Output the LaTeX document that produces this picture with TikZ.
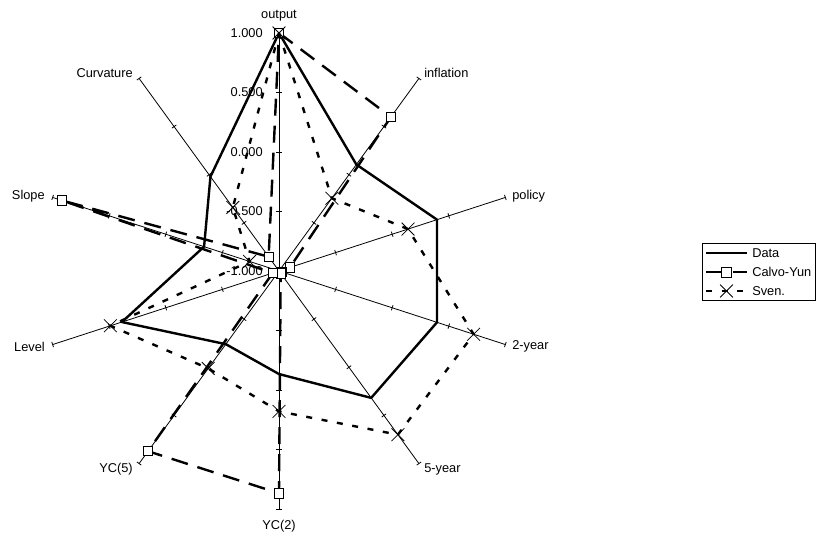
\documentclass[tikz,border=0pt]{standalone}
\usepackage{fontspec}
\setmainfont{Liberation Sans}
\usetikzlibrary{shapes.misc,calc}
\begin{document}
\begin{tikzpicture}[x=0.75pt,y=0.75pt,
  font=\fontsize{9.6pt}{11pt}\selectfont,
  axis/.style={line width=0.6pt},
  lab/.style={inner sep=0pt},
  datal/.style={line width=1.8pt, line join=round},
  cyl/.style={line width=1.8pt, line join=round, dash pattern=on 12.75pt off 7.5pt},
  svl/.style={line width=1.8pt, line join=round, dash pattern=on 4.5pt off 7.2pt},
  sq/.style={draw, line width=0.6pt, fill=white, rectangle, minimum size=7pt, inner sep=0pt},
  xm/.style={draw, line width=0.6pt, cross out, minimum size=9pt, inner sep=0pt},
]
\useasboundingbox (0,0) rectangle (816,539);
\def\R{238}
% category labels
\node[lab] (Loutput) at (279,523) {output};
\node[lab,anchor=west] (Linfl) at (424,466) {inflation};
\node[lab,anchor=west] (Lpol) at (512,343) {policy};
\node[lab,anchor=west] (L2y) at (512,192.5) {2-year};
\node[lab,anchor=west] (L5y) at (424,70) {5-year};
\node[lab] (Lyc2) at (279,13) {YC(2)};
\node[lab,anchor=east] (Lyc5) at (133,70) {YC(5)};
\node[lab,anchor=east] (Llev) at (45,192.5) {Level};
\node[lab,anchor=east] (Lslo) at (45,343) {Slope};
\node[lab,anchor=east] (Lcur) at (133,466) {Curvature};
\begin{scope}[shift={(279,268)}]
  % axes with ticks
  \foreach \i in {0,...,9}{
    \pgfmathsetmacro\a{90-36*\i}
    \draw[axis] (0,0) -- ({\a}:\R);
    \foreach \k in {1,2,3,4}{
      \draw[axis] ($({\a}:{\R*\k/4})+({\a+90}:2.7)$) -- ($({\a}:{\R*\k/4})+({\a-90}:2.7)$);
    }
  }
  % value labels
  \node[lab,anchor=east] (v1) at (-16,238) {1.000};
  \node[lab,anchor=east] (v2) at (-16,178.5) {0.500};
  \node[lab,anchor=east] (v3) at (-16,119) {0.000};
  \node[lab,anchor=east] (v4) at (-16,59.5) {-0.500};
  \node[lab,anchor=east] (v5) at (-16,0) {-1.000};
  % data points
  \foreach \i/\f in {0/1.0,1/0.553,2/0.698,3/0.698,4/0.659,5/0.433,6/0.38,7/0.694,8/0.331,9/0.49}{
    \coordinate (d\i) at ({90-36*\i}:{\R*\f});
  }
  \foreach \i/\f in {0/1.0,1/0.80,2/0.048,3/0.012,4/0.012,5/0.934,6/0.936,7/0.028,8/0.958,9/0.074}{
    \coordinate (c\i) at ({90-36*\i}:{\R*\f});
  }
  \foreach \i/\f in {0/1.0,1/0.378,2/0.57,3/0.86,4/0.85,5/0.59,6/0.506,7/0.745,8/0.13,9/0.33}{
    \coordinate (s\i) at ({90-36*\i}:{\R*\f});
  }
\end{scope}
% Data
\draw[datal] (d0) -- (d1) -- (d2) -- (d3) -- (d4) -- (d5) -- (d6) -- (d7) -- (d8) -- (d9) -- cycle;
% Calvo-Yun
\draw[cyl] (c0) -- (c1) -- (c2) -- (c3) -- (c4) -- (c5) -- (c6) -- (c7) -- (c8) -- (c9) -- cycle;
\foreach \i in {0,...,9}{ \node[sq] (cm\i) at (c\i) {}; }
% Sven.
\draw[svl] (s0) -- (s1) -- (s2) -- (s3) -- (s4) -- (s5) -- (s6) -- (s7) -- (s8) -- (s9) -- cycle;
\foreach \i in {0,...,9}{ \node[xm] (sm\i) at (s\i) {}; }
% legend
\draw[line width=0.6pt] (702,239) rectangle (815,296);
\coordinate (la1) at (706,285.7); \coordinate (lb1) at (747,285.7);
\coordinate (la2) at (706,266.7); \coordinate (lb2) at (747,266.7);
\coordinate (la3) at (706,248);   \coordinate (lb3) at (747,248);
\draw[datal] (la1) -- (lb1);
\draw[cyl] (la2) -- (lb2);
\node[sq] (lsq) at ($(la2)!0.5!(lb2)$) {};
\draw[svl] (la3) -- (lb3);
\node[xm] (lx) at ($(la3)!0.5!(lb3)$) {};
\node[lab,anchor=west] (t1) at (752,285.7) {Data};
\node[lab,anchor=west] (t2) at (752,266.7) {Calvo-Yun};
\node[lab,anchor=west] (t3) at (752,248) {Sven.};
\end{tikzpicture}
\end{document}
